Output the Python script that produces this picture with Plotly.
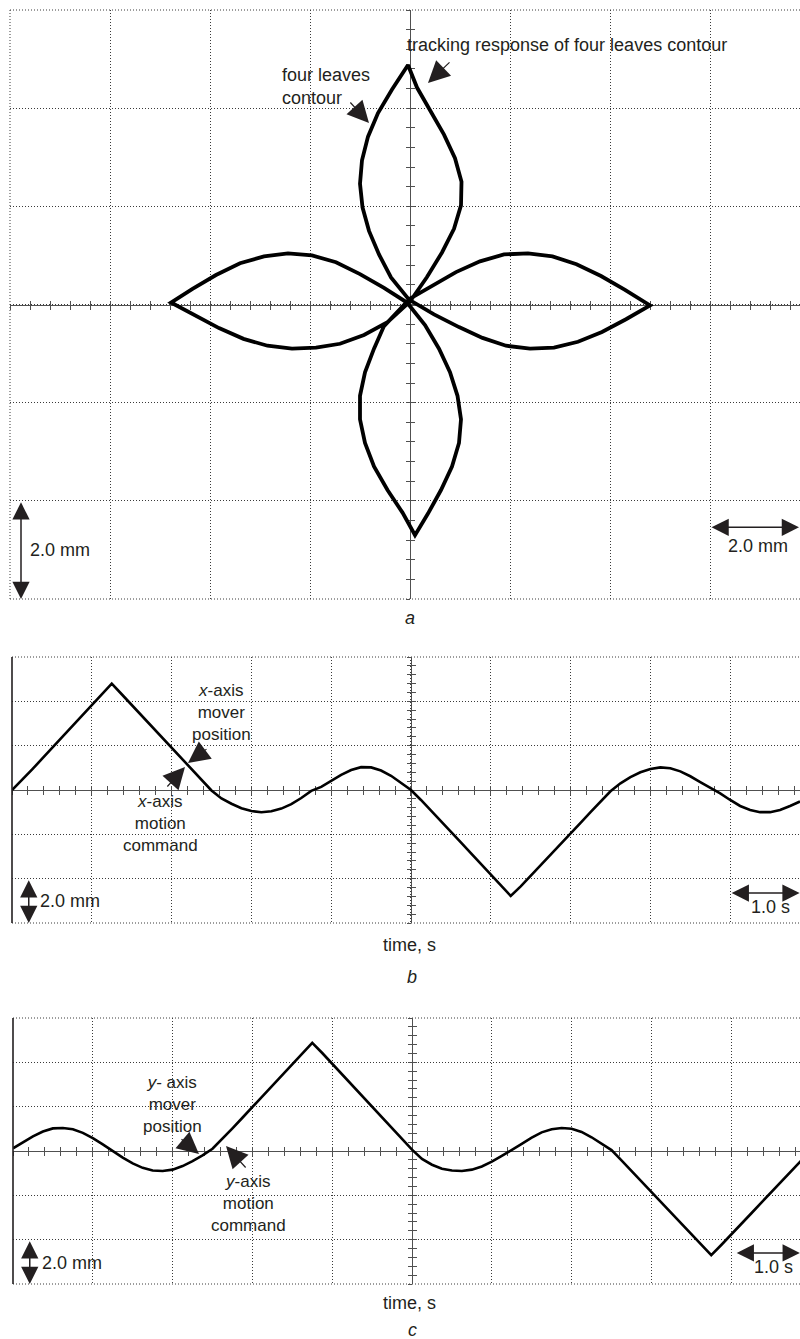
import numpy as np
import plotly.graph_objects as go

W, H = 800, 1339
INK = "#231f20"
GRID = "#3a3a3a"
AXIS = "#505050"
FONT = "Liberation Sans, Arial, sans-serif"
DOT = "1px,2px"

# sample clock of the recorder (s)
time_s = np.arange(80) * 0.125

# x-axis mover position (mm), one value per sample
x_mm = [
    0.00, 0.45, 0.92, 1.40, 1.88, 2.36, 2.85, 3.33, 3.82, 4.30,
    4.80, 4.32, 3.84, 3.36, 2.88, 2.40, 1.92, 1.45, 0.98, 0.48,
    -0.02, -0.38, -0.62, -0.82, -0.95, -1.00, -0.96, -0.84, -0.64, -0.36,
    -0.04, 0.14, 0.40, 0.68, 0.90, 1.03, 1.02, 0.88, 0.64, 0.34,
    0.00, -0.45, -0.92, -1.40, -1.88, -2.36, -2.85, -3.33, -3.82, -4.30,
    -4.78, -4.35, -3.88, -3.40, -2.92, -2.44, -1.96, -1.48, -1.00, -0.52,
    -0.06, 0.30, 0.58, 0.80, 0.95, 1.02, 0.98, 0.84, 0.62, 0.36,
    0.10, -0.15, -0.45, -0.72, -0.90, -1.00, -1.00, -0.90, -0.72, -0.52,
]

# y-axis mover position (mm), one value per sample
y_mm = [
    0.12, 0.38, 0.66, 0.88, 1.02, 1.04, 0.98, 0.82, 0.58, 0.30,
    -0.02, -0.30, -0.56, -0.76, -0.88, -0.90, -0.84, -0.68, -0.46, -0.20,
    0.10, 0.55, 1.02, 1.50, 1.98, 2.46, 2.94, 3.42, 3.90, 4.38,
    4.88, 4.42, 3.94, 3.46, 2.98, 2.50, 2.02, 1.54, 1.06, 0.56,
    0.06, -0.36, -0.62, -0.80, -0.88, -0.90, -0.84, -0.70, -0.48, -0.22,
    0.04, 0.32, 0.60, 0.84, 0.98, 1.04, 1.00, 0.86, 0.62, 0.34,
    0.04, -0.42, -0.90, -1.38, -1.86, -2.34, -2.82, -3.30, -3.78, -4.26,
    -4.70, -4.24, -3.78, -3.30, -2.82, -2.34, -1.86, -1.38, -0.90, -0.44,
]


def fx(px):
    return px / W


def fy(py):
    return 1 - py / H


def ref(letter, n):
    return letter + ("" if n == 1 else str(n))


def name(letter, n):
    return letter + "axis" + ("" if n == 1 else str(n))


fig = go.Figure()
layout = {}
shapes = []
annotations = []


def add_panel(n, xdom, ydom, xrange, yrange, xdt, ydt, xc, yc, hminor, vminor, solid_left):
    """Scope-style panel: dotted grid, centre cross with minor ticks."""
    layout[name("x", n)] = dict(
        domain=[fx(xdom[0]), fx(xdom[1])], range=xrange, anchor=ref("y", n),
        showgrid=True, gridcolor=GRID, griddash=DOT, gridwidth=1,
        dtick=xdt, tick0=0, zeroline=False, showline=False, ticks="",
        showticklabels=False, fixedrange=True,
    )
    layout[name("y", n)] = dict(
        domain=[fy(ydom[1]), fy(ydom[0])], range=yrange, anchor=ref("x", n),
        showgrid=True, gridcolor=GRID, griddash=DOT, gridwidth=1,
        dtick=ydt, tick0=0, zeroline=False, showline=False, ticks="",
        showticklabels=False, fixedrange=True,
    )
    # centre horizontal axis: ticks down + ticks up
    for k, side in ((n + 1, "outside"), (n + 2, "inside")):
        layout[name("x", k)] = dict(
            overlaying=ref("x", n), anchor="free", position=fy(yc), range=xrange,
            dtick=hminor, tick0=0, ticks=side, ticklen=4, tickwidth=1, tickcolor=AXIS,
            showline=(side == "outside"), linecolor=AXIS, linewidth=1,
            showgrid=False, zeroline=False, showticklabels=False,
            layer="below traces", automargin=False, fixedrange=True,
        )
        fig.add_trace(go.Scatter(x=[None], y=[None], xaxis=ref("x", k), yaxis=ref("y", n),
                                 showlegend=False, hoverinfo="skip"))
    # centre vertical axis: ticks left + ticks right
    for k, side in ((n + 1, "outside"), (n + 2, "inside")):
        layout[name("y", k)] = dict(
            overlaying=ref("y", n), anchor="free", position=fx(xc), range=yrange,
            dtick=vminor, tick0=0, ticks=side, ticklen=4, tickwidth=1, tickcolor=AXIS,
            showline=(side == "outside"), linecolor=AXIS, linewidth=1,
            showgrid=False, zeroline=False, showticklabels=False,
            layer="below traces", automargin=False, fixedrange=True,
        )
        fig.add_trace(go.Scatter(x=[None], y=[None], xaxis=ref("x", n), yaxis=ref("y", k),
                                 showlegend=False, hoverinfo="skip"))
    xd, yd = ref("x", n) + " domain", ref("y", n) + " domain"
    for yy in (0, 1):
        shapes.append(dict(type="line", xref=xd, yref=yd, x0=0, x1=1, y0=yy, y1=yy,
                           line=dict(color=GRID, width=1, dash=DOT), layer="below"))
    if solid_left:
        shapes.append(dict(type="line", xref=xd, yref=yd, x0=0, x1=0, y0=0, y1=1,
                           line=dict(color=INK, width=1.6), layer="above"))
    else:
        shapes.append(dict(type="line", xref=xd, yref=yd, x0=0, x1=0, y0=0, y1=1,
                           line=dict(color=GRID, width=1, dash=DOT), layer="below"))


def text(px, py, s, size=18, xanchor="center", align="center"):
    annotations.append(dict(x=fx(px), y=fy(py), xref="paper", yref="paper", text=s,
                            showarrow=False, xanchor=xanchor, yanchor="middle", align=align,
                            font=dict(family=FONT, size=size, color=INK)))


def pointer(tail, head):
    annotations.append(dict(x=fx(head[0]), y=fy(head[1]), xref="paper", yref="paper",
                            ax=tail[0] - head[0], ay=tail[1] - head[1], text="",
                            showarrow=True, arrowhead=2, arrowsize=3.6, arrowwidth=1.2,
                            arrowcolor=INK, standoff=0))


def scale_arrow(n, p0, p1):
    annotations.append(dict(x=p1[0], y=p1[1], xref=ref("x", n), yref=ref("y", n),
                            ax=p0[0], ay=p0[1], axref=ref("x", n), ayref=ref("y", n),
                            text="", showarrow=True, arrowhead=2, startarrowhead=2,
                            arrowside="end+start", arrowsize=2.3, startarrowsize=2.3,
                            arrowwidth=1.5, arrowcolor=INK, standoff=0, startstandoff=0))


# ---- panel a: contour in the x-y plane ----
add_panel(1, (10, 800), (10, 599), [-8, 7.8], [-6, 6], 2, 2, 410, 305, 0.4, 0.4, False)
fig.add_trace(go.Scatter(x=x_mm + x_mm[:1], y=y_mm + y_mm[:1], mode="lines",
                         line=dict(color="black", width=3.8), xaxis="x", yaxis="y",
                         showlegend=False, name="tracking response"))
scale_arrow(1, (-7.78, -4.0), (-7.78, -6.0))
scale_arrow(1, (6.0, -4.54), (7.78, -4.54))
text(28, 550, "2.0 mm", xanchor="left")
text(758, 546, "2.0 mm")
text(280, 86, "four leaves<br>contour", xanchor="left", align="left")
pointer((349, 101), (369, 123))
text(405, 45, "tracking response of four leaves contour", xanchor="left")
pointer((451, 61), (428, 83))
text(410, 618, "<i>a</i>")

# ---- panel b: x-axis versus time ----
add_panel(4, (12, 800), (657, 923), [0, 9.875], [-6, 6], 1, 2, 411, 790, 0.2, 0.4, True)
fig.add_trace(go.Scatter(x=time_s, y=x_mm, mode="lines",
                         line=dict(color="black", width=2.6), xaxis="x4", yaxis="y4",
                         showlegend=False, name="x-axis"))
scale_arrow(4, (0.21, -4.0), (0.21, -6.0))
scale_arrow(4, (9.0, -4.65), (9.87, -4.65))
text(38, 901, "2.0 mm", xanchor="left")
text(770, 907, "1.0 s")
text(221, 713, "<i>x</i>-axis<br>mover<br>position", size=17)
pointer((208, 748), (188, 763))
text(160, 823, "<i>x</i>-axis<br>motion<br>command", size=17)
pointer((166, 788), (185, 767))
text(410, 945, "time, s")
text(412, 977, "<i>b</i>")

# ---- panel c: y-axis versus time ----
add_panel(7, (13, 800), (1018, 1284), [0, 9.862], [-6, 6], 1, 2, 412, 1151, 0.2, 0.4, True)
fig.add_trace(go.Scatter(x=time_s, y=y_mm, mode="lines",
                         line=dict(color="black", width=2.6), xaxis="x7", yaxis="y7",
                         showlegend=False, name="y-axis"))
scale_arrow(7, (0.21, -4.0), (0.21, -6.0))
scale_arrow(7, (9.05, -4.6), (9.86, -4.6))
text(40, 1263, "2.0 mm", xanchor="left")
text(773, 1267, "1.0 s")
text(172, 1104, "<i>y</i>- axis<br>mover<br>position", size=17)
pointer((180, 1138), (199, 1154))
text(248, 1203, "<i>y</i>-axis<br>motion<br>command", size=17)
pointer((247, 1169), (226, 1146))
text(410, 1303, "time, s")
text(412, 1330, "<i>c</i>")

fig.update_layout(
    width=W, height=H, margin=dict(l=0, r=0, t=0, b=0),
    paper_bgcolor="white", plot_bgcolor="white", showlegend=False,
    shapes=shapes, annotations=annotations, **layout,
)

fig.write_html("out.html")
